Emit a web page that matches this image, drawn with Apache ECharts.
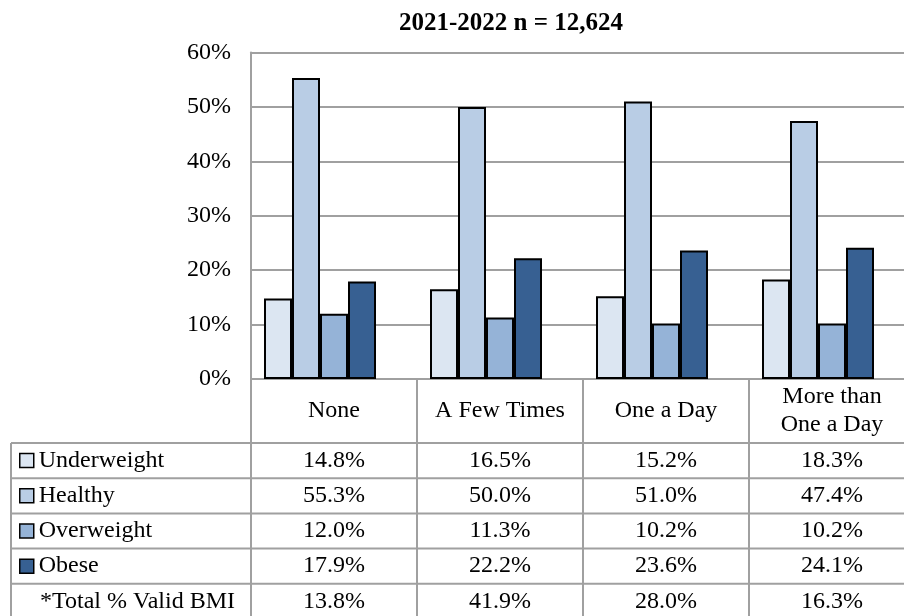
<!DOCTYPE html>
<html>
<head>
<meta charset="utf-8">
<script src="https://cdn.jsdelivr.net/npm/echarts@6/dist/echarts.min.js"></script>
<style>
  html, body { margin: 0; padding: 0; background: #fff; overflow: hidden; }
  #chart { width: 930px; height: 616px; }
</style>
</head>
<body>
<div id="chart"></div>
<script>
// Fruit/vegetable intake frequency by BMI class, 2021-2022
const titleText = '2021-2022 n = 12,624';
const categories = ['None', 'A Few Times', 'One a Day', 'More than\nOne a Day'];
const seriesNames = ['Underweight', 'Healthy', 'Overweight', 'Obese'];
const underweight = [14.8, 16.5, 15.2, 18.3];
const healthy = [55.3, 50.0, 51.0, 47.4];
const overweight = [12.0, 11.3, 10.2, 10.2];
const obese = [17.9, 22.2, 23.6, 24.1];
const validBmiLabel = '*Total % Valid BMI';
const validBmi = [13.8, 41.9, 28.0, 16.3];
const yMin = 0, yMax = 60, yStep = 10;

const colors = ['#dce6f2', '#b9cde5', '#95b3d7', '#376092'];
const values = [underweight, healthy, overweight, obese];

const FONT = '"Liberation Serif", "Times New Roman", serif';
const GRID_LINE = '#a0a0a0';

// layout
const plotTop = 52.5, plotBottom = 379, plotLeft = 251, plotWidth = 664;
const barShift = 14;            // bar groups sit left of the table columns
const headerBottom = 443, rowH = 35.2, tableLeft = 11;
const tableBottom = headerBottom + rowH * 5;

const chart = echarts.init(document.getElementById('chart'), null, { renderer: 'canvas' });

const option = {
  animation: false,
  backgroundColor: '#fff',
  title: {
    text: titleText,
    left: 399,
    top: 11,
    padding: 0,
    textStyle: { fontFamily: FONT, fontSize: 25, fontWeight: 'bold', color: '#000' }
  },
  legend: {
    orient: 'vertical',
    left: 19,
    top: headerBottom + rowH / 2 - 12,
    padding: 0,
    itemWidth: 14,
    itemHeight: 14,
    itemGap: rowH - 24,
    icon: 'rect',
    selectedMode: false,
    data: seriesNames,
    itemStyle: { borderColor: '#000', borderWidth: 1.5 },
    textStyle: { fontFamily: FONT, fontSize: 24, lineHeight: 24, color: '#000' }
  },
  grid: [
    { left: plotLeft, top: plotTop, width: plotWidth, height: plotBottom - plotTop, containLabel: false },
    { left: plotLeft - barShift, top: plotTop, width: plotWidth, height: plotBottom - plotTop, containLabel: false }
  ],
  xAxis: [
    {
      type: 'category', gridIndex: 0, data: categories, boundaryGap: true,
      axisLine: { show: true, lineStyle: { color: GRID_LINE, width: 2 } },
      axisTick: { show: true, interval: 0, length: tableBottom - plotBottom, lineStyle: { color: GRID_LINE, width: 2 } },
      axisLabel: {
        interval: 0, margin: (headerBottom - plotBottom) / 2, verticalAlign: 'middle',
        fontFamily: FONT, fontSize: 24, lineHeight: 28, color: '#000'
      },
      splitLine: { show: false }
    },
    {
      type: 'category', gridIndex: 1, data: categories, boundaryGap: true, show: false
    }
  ],
  yAxis: [
    {
      type: 'value', gridIndex: 0, min: yMin, max: yMax, interval: yStep,
      axisLine: { show: true, lineStyle: { color: GRID_LINE, width: 2 } },
      axisTick: { show: false },
      axisLabel: { formatter: '{value}%', margin: 20, fontFamily: FONT, fontSize: 24, color: '#000' },
      splitLine: { show: true, lineStyle: { color: GRID_LINE, width: 2 } }
    },
    {
      type: 'value', gridIndex: 1, min: yMin, max: yMax, interval: yStep, show: false,
      splitLine: { show: false }
    }
  ],
  series: seriesNames.map((name, i) => ({
    name: name,
    type: 'bar',
    xAxisIndex: 1,
    yAxisIndex: 1,
    data: values[i],
    barWidth: 28,
    barGap: '0%',
    itemStyle: { color: colors[i], borderColor: '#000', borderWidth: 2 }
  }))
};

chart.setOption(option);

// data table below the plot: borders and cell texts
const graphics = [];
const rightEdge = plotLeft + plotWidth;
for (let r = 0; r < 5; r++) {
  const y = headerBottom + rowH * r;
  graphics.push({
    type: 'line', silent: true,
    shape: { x1: tableLeft, y1: y, x2: rightEdge, y2: y },
    style: { stroke: GRID_LINE, lineWidth: 2 }
  });
}
graphics.push({
  type: 'line', silent: true,
  shape: { x1: tableLeft, y1: headerBottom, x2: tableLeft, y2: tableBottom },
  style: { stroke: GRID_LINE, lineWidth: 2 }
});

const rows = values.concat([validBmi]);
rows.forEach((row, r) => {
  const cy = headerBottom + rowH * r + rowH / 2;
  row.forEach((v, c) => {
    const cx = chart.convertToPixel({ xAxisIndex: 0 }, c);
    graphics.push({
      type: 'text', silent: true, x: cx, y: cy,
      style: {
        text: v.toFixed(1) + '%', fontFamily: FONT, fontSize: 24,
        fill: '#000', align: 'center', verticalAlign: 'middle'
      }
    });
  });
});
graphics.push({
  type: 'text', silent: true, x: 40, y: headerBottom + rowH * 4 + rowH / 2,
  style: { text: validBmiLabel, fontFamily: FONT, fontSize: 24, fill: '#000', align: 'left', verticalAlign: 'middle' }
});

chart.setOption({ graphic: graphics });
</script>
</body>
</html>
